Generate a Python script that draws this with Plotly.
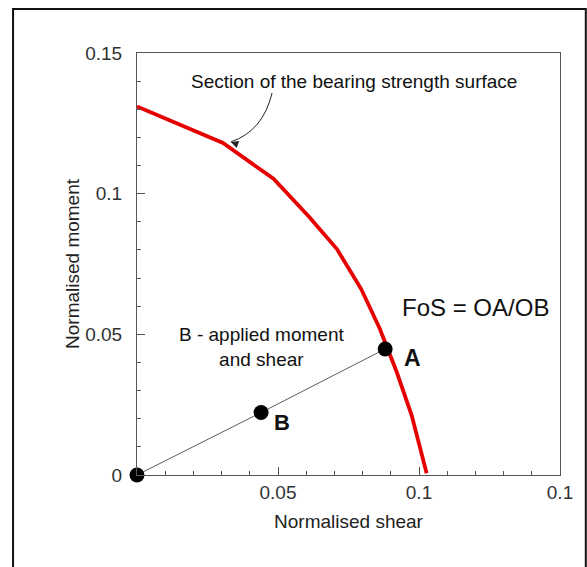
import plotly.graph_objects as go

# Strength surface section (normalised shear, normalised moment)
surface_shear = [0.0, 0.0305, 0.0484, 0.061, 0.0709, 0.0795, 0.0861, 0.0921, 0.0974, 0.1027]
surface_moment = [0.131, 0.118, 0.1053, 0.0918, 0.0803, 0.0661, 0.052, 0.0366, 0.0212, 0.0006]

# Load path O -> B -> A
point_names = ["O", "B", "A"]
point_shear = [0.0, 0.044, 0.088]
point_moment = [0.0, 0.0222, 0.0448]

x_tickvals = [0.05, 0.1, 0.15]
x_ticktext = ["0.05", "0.1", "0.1"]
y_tickvals = [0, 0.05, 0.1, 0.15]
y_ticktext = ["0", "0.05", "0.1", "0.15"]

FONT = "Arial, Liberation Sans, sans-serif"

fig = go.Figure()
fig.add_trace(go.Scatter(x=point_shear, y=point_moment, mode="lines",
                         line=dict(color="#333333", width=0.8), cliponaxis=False,
                         hoverinfo="skip"))
fig.add_trace(go.Scatter(x=surface_shear, y=surface_moment, mode="lines",
                         line=dict(color="#e60000", width=3.8), cliponaxis=False))
fig.add_trace(go.Scatter(x=point_shear, y=point_moment, mode="markers",
                         marker=dict(color="black", size=15), cliponaxis=False,
                         text=point_names))

axis_common = dict(
    showline=True, linecolor="#555555", linewidth=1, mirror=True,
    showgrid=False, zeroline=False,
    ticks="inside", ticklen=8, tickwidth=1, tickcolor="#555555",
    tickfont=dict(family=FONT, size=19, color="#333333"),
    minor=dict(ticks="inside", ticklen=4, tickwidth=1, tickcolor="#555555", dtick=0.01),
)

fig.update_xaxes(range=[0, 0.15], tickmode="array", tickvals=x_tickvals, ticktext=x_ticktext,
                 title=dict(text="Normalised shear", font=dict(family=FONT, size=19, color="#222222"),
                            standoff=12),
                 ticklabelstandoff=0, **axis_common)
fig.update_yaxes(range=[0, 0.15], tickmode="array", tickvals=y_tickvals, ticktext=y_ticktext,
                 title=dict(text="Normalised moment", font=dict(family=FONT, size=19, color="#222222"),
                            standoff=0),
                 ticklabelstandoff=10, **axis_common)

# curved arrow
p0 = (0.0479, 0.1358)
pc = (0.0447, 0.1223)
p1 = (0.0333, 0.1184)
fig.add_shape(type="path", xref="x", yref="y",
              path=f"M {p0[0]},{p0[1]} Q {pc[0]},{pc[1]} {p1[0]},{p1[1]}",
              line=dict(color="#222222", width=1))
fig.add_annotation(x=p1[0], y=p1[1], ax=p1[0] + 0.0025, ay=p1[1] - 0.0009,
                   axref="x", ayref="y", xref="x", yref="y", text="",
                   showarrow=True, arrowhead=2, arrowsize=1.5, arrowwidth=1, arrowcolor="#222222")

texts = [
    dict(x=0.0768, y=0.1398, text="Section of the bearing strength surface", size=19, bold=False),
    dict(x=0.1202, y=0.0594, text="FoS = OA/OB", size=24, bold=False),
    dict(x=0.0443, y=0.0456, text="B - applied moment<br>and shear", size=19, bold=False),
    dict(x=0.0977, y=0.0416, text="A", size=23, bold=True),
    dict(x=0.0515, y=0.0187, text="B", size=22, bold=True),
    dict(x=0.0053, y=-0.0055, text="O", size=22, bold=True),
]
for t in texts:
    fig.add_annotation(x=t["x"], y=t["y"], xref="x", yref="y", showarrow=False,
                       text=(f"<b>{t['text']}</b>" if t["bold"] else t["text"]),
                       font=dict(family=FONT, size=t["size"], color="#111111"),
                       xanchor="center", yanchor="middle")

# outer frame
fig.add_shape(type="rect", xref="paper", yref="paper",
              x0=-0.293, x1=1.061, y0=-0.24, y1=1.104,
              line=dict(color="#111111", width=2), layer="above")

fig.update_layout(
    width=587, height=567,
    margin=dict(l=137, r=27, t=53, b=92, autoexpand=False),
    paper_bgcolor="white", plot_bgcolor="white",
    showlegend=False,
    font=dict(family=FONT),
)

# remove the default 8px page margin so the figure fills the window
fig.write_html("out.html",
               config={"displayModeBar": False},
               post_script="document.body.style.margin='0';document.body.style.overflow='hidden';")
